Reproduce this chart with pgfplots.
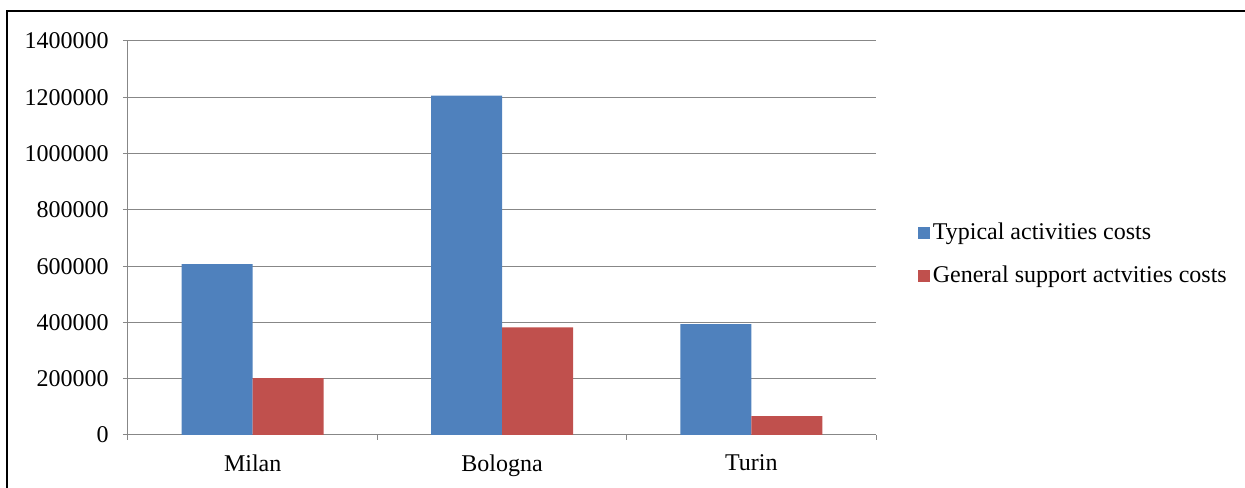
\documentclass[border=0pt]{standalone}
\usepackage{fontspec}
\setmainfont{Liberation Serif}
\usepackage{pgfplots}
\pgfplotsset{compat=1.18}
\definecolor{barblue}{HTML}{4F81BD}
\definecolor{barred}{HTML}{C0504D}
\definecolor{gridgray}{HTML}{878787}
\begin{document}
\fontsize{18}{21}\selectfont
\begin{tikzpicture}[x=1pt,y=1pt]
\useasboundingbox (0,0) rectangle (933.75,366);
\draw[line width=1.5pt, black] (5.25,0) -- (5.25,357.4) -- (933.75,357.4);
\begin{axis}[
  at={(96pt,39.75pt)}, anchor=south west,
  scale only axis, width=561pt, height=295.5pt,
  ybar=0pt, bar width=53.25pt,
  xmin=-0.5, xmax=2.5, ymin=0, ymax=1400000,
  xtick={0,1,2}, xticklabels={Milan,Bologna,Turin},
  minor xtick={-0.5,0.5,1.5,2.5},
  ytick={0,200000,400000,600000,800000,1000000,1200000,1400000},
  scaled y ticks=false,
  /pgf/number format/.cd, fixed, 1000 sep={}, assume math mode=true, /pgfplots/.cd,
  axis x line*=bottom, axis y line*=left,
  axis line style={gridgray, line width=0.75pt},
  ymajorgrids, grid style={gridgray, line width=0.75pt},
  tick align=outside,
  major tick length=3.75pt, minor tick length=3.75pt,
  tick style={gridgray, line width=0.75pt},
  major x tick style={draw=none},
  ticklabel style={font=\fontsize{18}{21}\selectfont},
  yticklabel style={xshift=-4.5pt},
  xticklabel style={yshift=-5pt},
  legend style={at={(1.056,0.459)}, anchor=west, draw=none, fill=none, inner sep=0pt,
    row sep=13pt, font=\fontsize{18}{21}\selectfont},
  legend cell align=left,
]
\addplot[fill=barblue, draw=none, legend image code/.code={\fill[barblue] (0pt,-4.5pt) rectangle (9pt,4.5pt);}] coordinates {(0,607000) (1,1206000) (2,394000)};
\addplot[fill=barred, draw=none, legend image code/.code={\fill[barred] (0pt,-4.5pt) rectangle (9pt,4.5pt);}] coordinates {(0,202000) (1,382000) (2,67000)};
\legend{Typical activities costs, General support actvities costs}
\end{axis}
\end{tikzpicture}
\end{document}
